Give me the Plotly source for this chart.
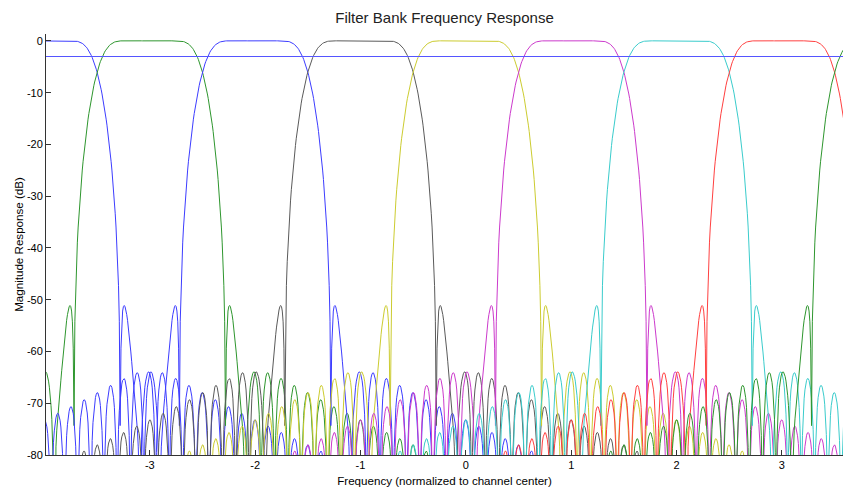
import numpy as np
import plotly.graph_objects as go

# ---- data ----
channel_centers = [-4, -3, -2, -1, 0, 1, 2, 3, 4]
channel_colors = ["#3c3cff", "#2e962e", "#3c3cff", "#5a5a5a", "#cccc30",
                  "#cc3acc", "#3acccc", "#ff4040", "#2e962e"]
num_channels = 8          # channels per period of the prototype
num_taps = 64             # prototype FIR length (Hamming windowed)
cutoff_channels = 0.5     # -6 dB edge, in channel widths
x_min, x_max = -3.985, 3.58
x_ticks = [-3, -2, -1, 0, 1, 2, 3]
x_ticklabels = ["-3", "-2", "-1", "0", "1", "2", "3"]
y_ticks = [0, -10, -20, -30, -40, -50, -60, -70, -80]
y_ticklabels = ["0", "-10", "-20", "-30", "-40", "-50", "-60", "-70", "-80"]
ref_level_db = -3

# ---- prototype filter ----
fs = num_channels                 # sample rate in channel widths
fc = cutoff_channels / fs         # cycles / sample
n = np.arange(num_taps) - (num_taps - 1) / 2
h = 2 * fc * np.sinc(2 * fc * n) * np.hamming(num_taps)
h = h / h.sum()

# each channel shown over one period centred on the channel (fftshift style)
d = np.arange(-fs / 2, fs / 2, 1 / 128)
Hd = np.exp(-2j * np.pi * np.outer(d / fs, n)) @ h
mag = 20 * np.log10(np.maximum(np.abs(Hd), 1e-12))

fig = go.Figure()
for c, col in zip(channel_centers, channel_colors):
    xc = d + c
    keep = (xc >= x_min - 0.01) & (xc <= x_max + 0.01)
    fig.add_trace(go.Scatter(x=xc[keep], y=mag[keep], mode="lines",
                             line=dict(color=col, width=1),
                             showlegend=False, hoverinfo="skip"))

fig.add_trace(go.Scatter(x=[x_min, x_max], y=[ref_level_db, ref_level_db],
                         mode="lines", line=dict(color="#5555ff", width=1),
                         showlegend=False, hoverinfo="skip"))

font = "Liberation Sans, Arial, Helvetica, sans-serif"
fig.update_layout(
    width=843, height=487,
    margin=dict(l=46, r=0, t=34, b=32),
    paper_bgcolor="white", plot_bgcolor="white",
    font=dict(family=font, size=11, color="black"),
    title=dict(text="Filter Bank Frequency Response", x=0.5, xref="paper",
               y=1 - 18 / 487, yref="container", yanchor="middle",
               font=dict(size=15, family=font, color="#222222")),
    xaxis=dict(range=[x_min, x_max], tickvals=x_ticks, ticktext=x_ticklabels,
               ticks="inside", ticklen=5, tickcolor="#333333",
               showline=True, linecolor="#333333", linewidth=1,
               showgrid=False, zeroline=False,
               title=dict(text="Frequency (normalized to channel center)",
                          standoff=7, font=dict(size=11.6))),
    yaxis=dict(range=[-80, 1.35], tickvals=y_ticks, ticktext=y_ticklabels,
               ticks="inside", ticklen=5, tickcolor="#333333",
               showline=True, linecolor="#333333", linewidth=1,
               showgrid=False, zeroline=False,
               title=dict(text="Magnitude Response (dB)", standoff=0,
                          font=dict(size=11.6))),
)

fig.write_html("out.html")
